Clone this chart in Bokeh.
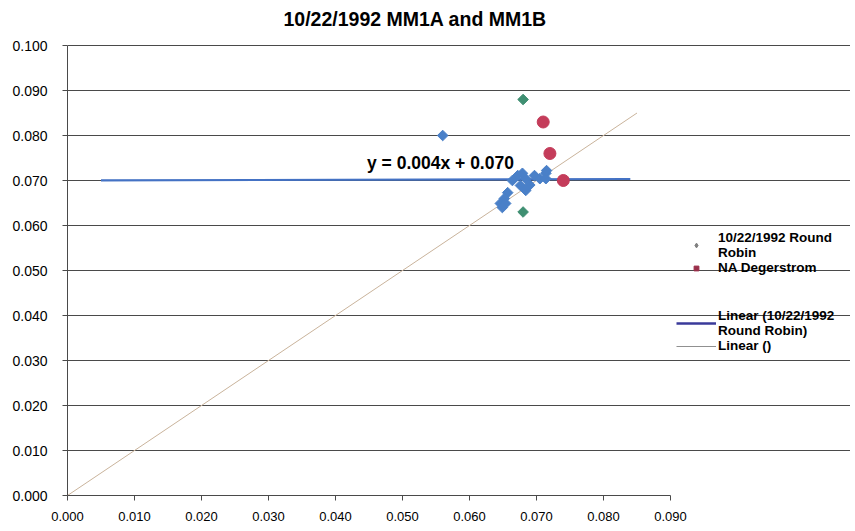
from bokeh.plotting import figure
from bokeh.models import Range1d, FixedTicker, NumeralTickFormatter, Legend, LegendItem, Label, ColumnDataSource
from bokeh.embed import file_html
from bokeh.resources import INLINE
import numpy as np

# ---- data ----
title_text = "10/22/1992 MM1A and MM1B"
rr_x = [0.0560, 0.0672, 0.0679, 0.0684, 0.0697, 0.0705, 0.0714, 0.0714, 0.0715, 0.0664,
        0.0676, 0.0684, 0.0690, 0.0657, 0.0652, 0.0646, 0.0654, 0.0649]
rr_y = [0.0800, 0.0711, 0.0716, 0.0704, 0.0711, 0.0704, 0.0716, 0.0704, 0.0722, 0.0700,
        0.0689, 0.0678, 0.0690, 0.0673, 0.0660, 0.0649, 0.0649, 0.0640]
rr2_x = [0.0680, 0.0680]
rr2_y = [0.0880, 0.0630]
nad_x = [0.0710, 0.0720, 0.0740]
nad_y = [0.0830, 0.0760, 0.0700]
trend_slope = 0.004
trend_intercept = 0.070
trend_x = [0.005, 0.084]
diag_x = [0.0, 0.085]
x_ticks = [0.00, 0.01, 0.02, 0.03, 0.04, 0.05, 0.06, 0.07, 0.08, 0.09]
y_ticks = [0.00, 0.01, 0.02, 0.03, 0.04, 0.05, 0.06, 0.07, 0.08, 0.09, 0.10]
legend_labels = ["10/22/1992 Round\nRobin", "NA Degerstrom", "Linear (10/22/1992\nRound Robin)", "Linear ()"]
equation = "y = %.3fx + %.3f" % (trend_slope, trend_intercept)

FONT = "Liberation Sans"
W, H = 850, 528
LEFT = 67
TOP_PAD = 45          # room for the title, inside the frame
FRAME_BOTTOM = 495
px_per_x = 6700.0
px_per_y = 4500.0
x_end = (W - LEFT) / px_per_x
y_end = 0.1 + TOP_PAD / px_per_y

p = figure(width=W, height=H, output_backend="svg", toolbar_location=None,
           x_range=Range1d(0, x_end), y_range=Range1d(0, y_end),
           min_border_left=LEFT, min_border_right=0, min_border_top=0,
           min_border_bottom=H - FRAME_BOTTOM)
p.outline_line_color = None
p.background_fill_color = "white"
p.border_fill_color = "white"

# chart title
p.add_layout(Label(x=(283 - LEFT) / px_per_x, y=(FRAME_BOTTOM - 18) / px_per_y, text=title_text,
                   text_baseline="middle", text_align="left",
                   text_font=FONT, text_font_size="19.5px", text_font_style="bold", text_color="black"))

p.xgrid.visible = False
p.ygrid.grid_line_color = "#4a4a4a"
p.ygrid.grid_line_width = 1
p.ygrid.bounds = (0, 0.09)

for ax in (p.xaxis[0], p.yaxis[0]):
    ax.axis_line_color = "#4a4a4a"
    ax.major_tick_line_color = "#4a4a4a"
    ax.major_tick_in = 0
    ax.major_tick_out = 5
    ax.minor_tick_line_color = None
    ax.major_label_text_font = FONT
    ax.major_label_text_color = "black"
    ax.formatter = NumeralTickFormatter(format="0.000")

p.xaxis[0].ticker = FixedTicker(ticks=x_ticks)
p.xaxis[0].bounds = (0, 0.09)
p.xaxis[0].major_label_text_font_size = "13px"
p.xaxis[0].major_label_standoff = 11
p.yaxis[0].ticker = FixedTicker(ticks=y_ticks)
p.yaxis[0].bounds = (0, 0.1)
p.yaxis[0].major_label_text_font_size = "14px"
p.yaxis[0].major_label_standoff = 15

# diagonal reference line y = x
diag = p.line(diag_x, diag_x, line_color="#c9b39b", line_width=1)
# linear trendline
tx = np.array(trend_x)
trend = p.line(tx, trend_slope * tx + trend_intercept, line_color="#4472c4", line_width=2.2)

p.scatter(rr_x, rr_y, marker="square", angle=np.pi / 4, size=7.5, fill_color="#4a80c8", line_color="#4a80c8")
p.scatter(rr2_x, rr2_y, marker="square", angle=np.pi / 4, size=7.5, fill_color="#3f8f72", line_color="#3f8f72")
p.scatter(nad_x, nad_y, marker="circle", size=12, fill_color="#c43c5a", line_color="#c43c5a")

# legend proxies (not drawn in the plot area)
proxy = ColumnDataSource(data=dict(x=[np.nan], y=[np.nan]))
leg_rr = p.scatter("x", "y", source=proxy, marker="diamond", size=9,
                   fill_color="#808080", line_color="#808080")
leg_nad = p.scatter("x", "y", source=proxy, marker="square", size=7, fill_color="#9a2f4a", line_color="#9a2f4a")
leg_trend = p.line("x", "y", source=proxy, line_color="#3a3a9a", line_width=2.5)
leg_diag = p.line("x", "y", source=proxy, line_color="#909090", line_width=1.2)

def make_legend(items, loc):
    lg = Legend(items=items, location=loc, padding=0, margin=0, spacing=0,
                border_line_color=None, background_fill_alpha=0,
                glyph_width=40, glyph_height=12, label_height=12, label_standoff=2,
                label_text_font=FONT, label_text_font_size="13.5px", label_text_font_style="bold",
                label_text_line_height=1.0, label_text_color="black")
    p.add_layout(lg)

make_legend([LegendItem(label=legend_labels[0], renderers=[leg_rr]),
             LegendItem(label=legend_labels[1], renderers=[leg_nad])], (609, 220))
make_legend([LegendItem(label=legend_labels[2], renderers=[leg_trend]),
             LegendItem(label=legend_labels[3], renderers=[leg_diag])], (609, 142))

p.add_layout(Label(x=0.0447, y=0.0738, text=equation, text_baseline="middle",
                   text_font=FONT, text_font_size="17.5px", text_font_style="bold", text_color="black"))

open("out.html", "w").write(file_html(p, INLINE))
